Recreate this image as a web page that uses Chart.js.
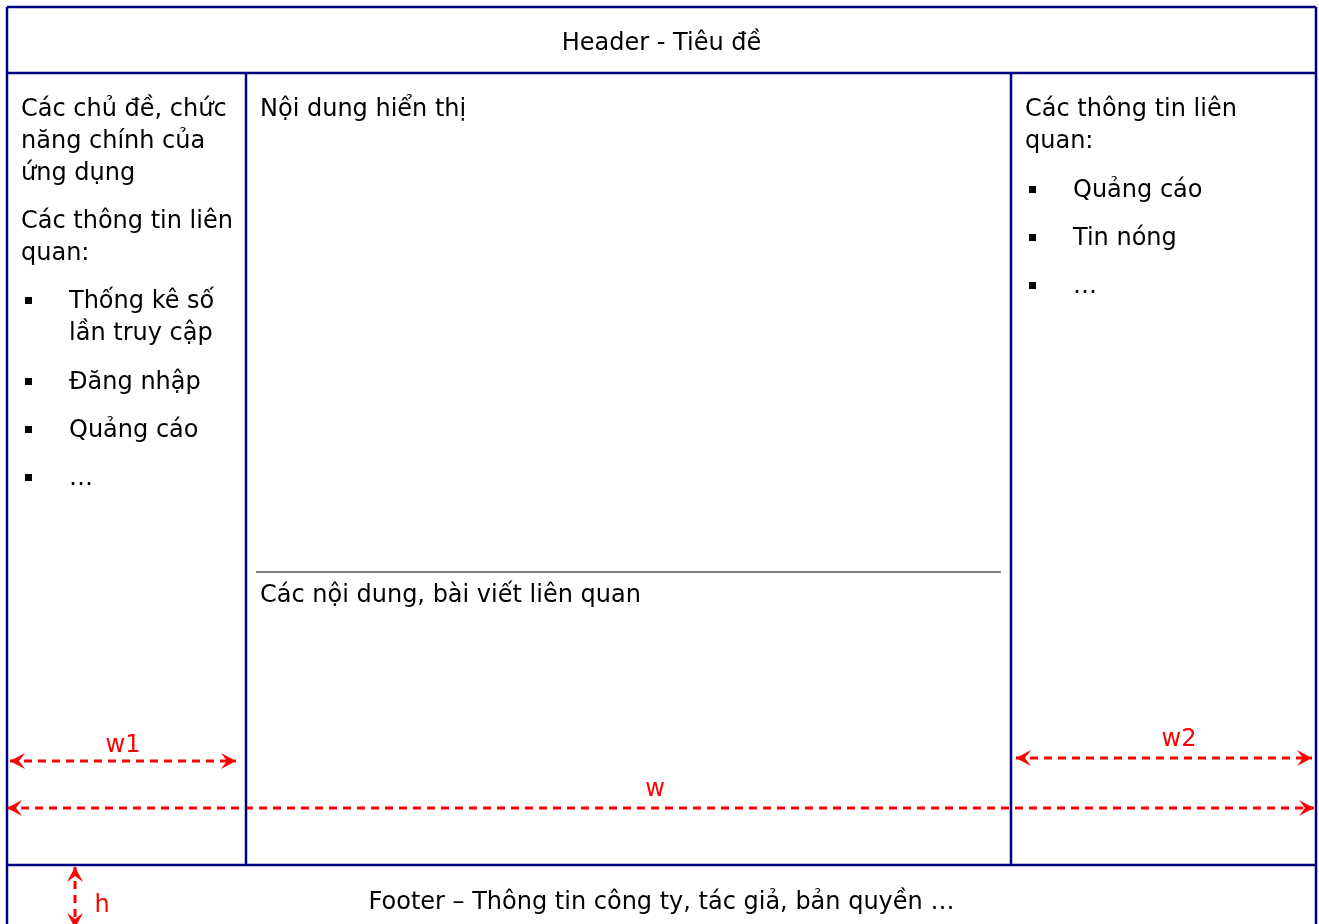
<!DOCTYPE html>
<html>
<head>
<meta charset="utf-8">
<script src="https://cdn.jsdelivr.net/npm/chart.js@4.4.1/dist/chart.umd.min.js"></script>
<style>
  html, body { margin: 0; padding: 0; background: #ffffff; }
  #wrap { width: 1319px; height: 924px; }
</style>
</head>
<body>
<div id="wrap"><canvas id="c" width="1319" height="924"></canvas></div>
<script>
// ---- layout regions (diagram coordinates) ----
const colX = [7, 246, 1011, 1316];          // column boundaries
const rowY = [7, 73, 865, 924];             // header top, header bottom, footer top, page bottom
const dividerX = [256, 1001];               // grey divider in middle column
const dividerY = 572;

// ---- texts ----
const headerText = 'Header - Tiêu đề';
const footerText = 'Footer – Thông tin công ty, tác giả, bản quyền …';
const leftParas = ['Các chủ đề, chức', 'năng chính của', 'ứng dụng', 'Các thông tin liên', 'quan:'];
const leftParaY = [107, 139, 171, 219, 251];
const leftBullets = ['Thống kê số', 'lần truy cập', 'Đăng nhập', 'Quảng cáo', '…'];
const leftBulletY = [299, 331, 380, 428, 476];
const leftBulletMark = [true, false, true, true, true];
const midTexts = ['Nội dung hiển thị', 'Các nội dung, bài viết liên quan'];
const midTextY = [107, 593];
const rightParas = ['Các thông tin liên', 'quan:'];
const rightParaY = [107, 139];
const rightBullets = ['Quảng cáo', 'Tin nóng', '…'];
const rightBulletY = [188, 236, 284];

// ---- dimension arrows ----
const dimLabels = ['w1', 'w2', 'w', 'h'];
const dimFrom = [[10, 761], [1016, 758], [7, 808], [75, 867]];
const dimTo   = [[236, 761], [1312, 758], [1314, 808], [75, 928]];
const dimLabelPos = [[123, 743], [1179, 737], [655, 787], [102, 903]];

const NAVY = '#000080';
const FONT = "'DejaVu Sans', sans-serif";
const FS = 24;

function seg(a, b, color, width, dash) {
  return {
    type: 'line',
    data: [{x: a[0], y: a[1]}, {x: b[0], y: b[1]}],
    borderColor: color, borderWidth: width, borderDash: dash || [],
    pointRadius: 0, showLine: true, clip: false, fill: false, tension: 0
  };
}

const datasets = [
  seg([colX[0], rowY[0]], [colX[3], rowY[0]], NAVY, 2.5),
  seg([colX[0], rowY[1]], [colX[3], rowY[1]], NAVY, 2.5),
  seg([colX[0], rowY[2]], [colX[3], rowY[2]], NAVY, 2.5),
  seg([colX[0], rowY[0]], [colX[0], rowY[3]], NAVY, 2.5),
  seg([colX[3], rowY[0]], [colX[3], rowY[3]], NAVY, 2.5),
  seg([colX[1], rowY[1]], [colX[1], rowY[2]], NAVY, 2.5),
  seg([colX[2], rowY[1]], [colX[2], rowY[2]], NAVY, 2.5),
  seg([dividerX[0], dividerY], [dividerX[1], dividerY], '#808080', 2),
];
for (let i = 0; i < dimLabels.length; i++) {
  datasets.push(seg(dimFrom[i], dimTo[i], '#ff0000', 3, [8, 6]));
}

function arrowHead(ctx, tx, ty, dx, dy) {
  const len = Math.hypot(dx, dy); const ux = dx / len, uy = dy / len;
  const px = -uy, py = ux;
  const L = 15, W = 8, N = 6;
  ctx.beginPath();
  ctx.moveTo(tx, ty);
  ctx.lineTo(tx - ux * L + px * W, ty - uy * L + py * W);
  ctx.lineTo(tx - ux * (L - N), ty - uy * (L - N));
  ctx.lineTo(tx - ux * L - px * W, ty - uy * L - py * W);
  ctx.closePath();
  ctx.fill();
}

const diagramPlugin = {
  id: 'diagram',
  afterDatasetsDraw(chart) {
    const ctx = chart.ctx;
    const sx = chart.scales.x, sy = chart.scales.y;
    const X = v => sx.getPixelForValue(v), Y = v => sy.getPixelForValue(v);
    ctx.save();
    ctx.font = FS + 'px ' + FONT;
    ctx.fillStyle = '#000000';
    ctx.textBaseline = 'alphabetic';
    const off = 9;
    ctx.textAlign = 'center';
    ctx.fillText(headerText, X((colX[0] + colX[3]) / 2), Y(41) + off);
    ctx.fillText(footerText, X((colX[0] + colX[3]) / 2), Y(900) + off);
    ctx.textAlign = 'left';
    leftParas.forEach((t, i) => ctx.fillText(t, X(colX[0] + 14), Y(leftParaY[i]) + off));
    leftBullets.forEach((t, i) => {
      ctx.fillText(t, X(colX[0] + 62), Y(leftBulletY[i]) + off);
      if (leftBulletMark[i]) ctx.fillRect(X(colX[0] + 18), Y(leftBulletY[i]) - 2, 7, 7);
    });
    midTexts.forEach((t, i) => ctx.fillText(t, X(colX[1] + 14), Y(midTextY[i]) + off));
    rightParas.forEach((t, i) => ctx.fillText(t, X(colX[2] + 14), Y(rightParaY[i]) + off));
    rightBullets.forEach((t, i) => {
      ctx.fillText(t, X(colX[2] + 62), Y(rightBulletY[i]) + off);
      ctx.fillRect(X(colX[2] + 18), Y(rightBulletY[i]) - 2, 7, 7);
    });
    ctx.fillStyle = '#ff0000';
    ctx.textAlign = 'center';
    dimLabels.forEach((t, i) => {
      ctx.fillText(t, X(dimLabelPos[i][0]), Y(dimLabelPos[i][1]) + off);
      const a = [X(dimFrom[i][0]), Y(dimFrom[i][1])], b = [X(dimTo[i][0]), Y(dimTo[i][1])];
      arrowHead(ctx, a[0], a[1], a[0] - b[0], a[1] - b[1]);
      arrowHead(ctx, b[0], b[1], b[0] - a[0], b[1] - a[1]);
    });
    ctx.restore();
  }
};

new Chart(document.getElementById('c'), {
  type: 'scatter',
  data: { datasets },
  options: {
    responsive: false,
    animation: false,
    events: [],
    layout: { padding: 0 },
    plugins: { legend: { display: false }, tooltip: { enabled: false }, title: { display: false } },
    scales: {
      x: { type: 'linear', min: 0, max: 1319, display: false },
      y: { type: 'linear', min: 0, max: 924, reverse: true, display: false }
    }
  },
  plugins: [diagramPlugin]
});
</script>
</body>
</html>
